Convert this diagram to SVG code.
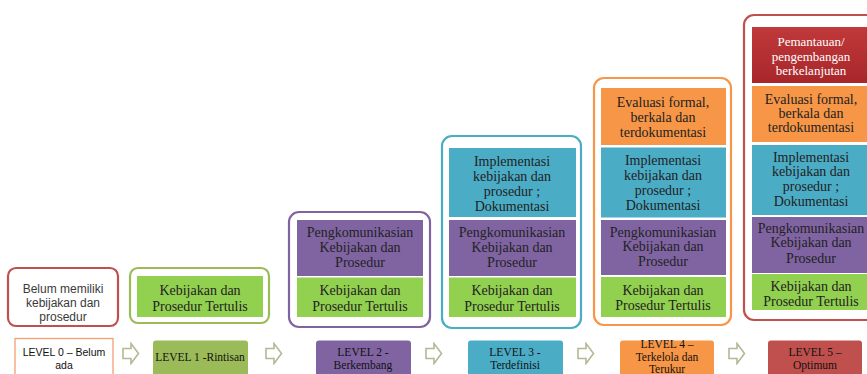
<svg xmlns="http://www.w3.org/2000/svg" width="867" height="374" viewBox="0 0 867 374">
<defs>
<linearGradient id="redg" x1="0" y1="0" x2="0" y2="1">
<stop offset="0" stop-color="#c0393b"/>
<stop offset="1" stop-color="#a8262a"/>
</linearGradient>
<symbol id="arr" viewBox="0 0 18 23">
<path d="M1 6.5 H9 V1.5 L16.5 11.5 L9 21.5 V16.5 H1 Z" fill="#ffffff" stroke="#b3b995" stroke-width="1.6" stroke-linejoin="miter"/>
</symbol>
</defs>
<style>
.t{font-family:"Liberation Serif","DejaVu Serif",serif;font-size:14px;fill:#222;text-anchor:middle}
.w{fill:#ffffff;font-size:13px}
.s{font-family:"Liberation Sans",Arial,sans-serif;font-size:12px;fill:#3a3a3a;text-anchor:middle}
.lb{font-family:"Liberation Serif","DejaVu Serif",serif;font-size:11.5px;fill:#111;text-anchor:middle}
.ls{font-family:"Liberation Sans",Arial,sans-serif;font-size:10.5px;fill:#111;text-anchor:middle}
.o{fill:#ffffff;stroke-width:2.2}
.g{fill:#92d050}
.p{fill:#8064a2}
.b{fill:#4bacc6}
.or{fill:#f79646}
</style>
<rect width="867" height="374" fill="#ffffff"/>

<g id="level0">
<rect class="o" x="8" y="268" width="110" height="58" rx="8" stroke="#c0504d"/>
<text class="s" x="63" y="293">Belum memiliki</text>
<text class="s" x="63" y="307">kebijakan dan</text>
<text class="s" x="63" y="321">prosedur</text>
<rect x="15" y="338.5" width="98" height="42" fill="#ffffff" stroke="#f0a070" stroke-width="1.3"/>
<text class="ls" x="64" y="356">LEVEL 0 – Belum</text>
<text class="ls" x="64" y="369">ada</text>
</g>

<g id="level1">
<rect class="o" x="130" y="268" width="139" height="55" rx="8" stroke="#9bbb59"/>
<rect class="g" x="137" y="276" width="126" height="41"/>
<text class="t" x="200" y="295">Kebijakan dan</text>
<text class="t" x="200" y="311">Prosedur Tertulis</text>
<rect x="153" y="340.5" width="95" height="40" rx="3" fill="#9bbb59"/>
<text class="lb" x="200" y="361">LEVEL 1 -Rintisan</text>
</g>

<g id="level2">
<rect class="o" x="289" y="212" width="141" height="115" rx="10" stroke="#8064a2"/>
<rect class="p" x="297" y="220" width="126" height="56"/>
<text class="t" x="360" y="237">Pengkomunikasian</text>
<text class="t" x="360" y="252">Kebijakan dan</text>
<text class="t" x="360" y="267">Prosedur</text>
<rect class="g" x="297" y="277.5" width="126" height="39.5"/>
<text class="t" x="360" y="295">Kebijakan dan</text>
<text class="t" x="360" y="311">Prosedur Tertulis</text>
<rect x="316" y="340.5" width="95" height="40" rx="3" fill="#8064a2"/>
<text class="lb" x="363" y="356">LEVEL 2 -</text>
<text class="lb" x="363" y="369">Berkembang</text>
</g>

<g id="level3">
<rect class="o" x="442" y="136" width="139" height="192" rx="10" stroke="#4bacc6"/>
<rect class="b" x="449" y="148" width="127" height="69"/>
<text class="t" x="512" y="166">Implementasi</text>
<text class="t" x="512" y="181">kebijakan dan</text>
<text class="t" x="512" y="196">prosedur ;</text>
<text class="t" x="512" y="211">Dokumentasi</text>
<rect class="p" x="449" y="220" width="127" height="56"/>
<text class="t" x="512" y="237">Pengkomunikasian</text>
<text class="t" x="512" y="252">Kebijakan dan</text>
<text class="t" x="512" y="267">Prosedur</text>
<rect class="g" x="449" y="277.5" width="127" height="39.5"/>
<text class="t" x="512" y="295">Kebijakan dan</text>
<text class="t" x="512" y="311">Prosedur Tertulis</text>
<rect x="468" y="340.5" width="95" height="40" rx="3" fill="#4bacc6"/>
<text class="lb" x="515" y="356">LEVEL 3 -</text>
<text class="lb" x="515" y="368.5">Terdefinisi</text>
</g>

<g id="level4">
<rect class="o" x="594" y="78" width="137" height="247" rx="10" stroke="#f79646"/>
<rect class="or" x="601" y="88" width="125" height="57"/>
<text class="t" x="663" y="107">Evaluasi formal,</text>
<text class="t" x="663" y="122">berkala dan</text>
<text class="t" x="663" y="137">terdokumentasi</text>
<rect class="b" x="601" y="147.5" width="125" height="70"/>
<text class="t" x="663" y="165">Implementasi</text>
<text class="t" x="663" y="180">kebijakan dan</text>
<text class="t" x="663" y="195">prosedur ;</text>
<text class="t" x="663" y="210">Dokumentasi</text>
<rect class="p" x="601" y="220" width="125" height="55"/>
<text class="t" x="663" y="237">Pengkomunikasian</text>
<text class="t" x="663" y="251">Kebijakan dan</text>
<text class="t" x="663" y="266">Prosedur</text>
<rect class="g" x="601" y="277" width="125" height="40"/>
<text class="t" x="663" y="295">Kebijakan dan</text>
<text class="t" x="663" y="310">Prosedur Tertulis</text>
<rect x="620" y="340.5" width="94" height="40" rx="3" fill="#f79646"/>
<text class="lb" x="667" y="348">LEVEL 4 –</text>
<text class="lb" x="667" y="360.5">Terkelola dan</text>
<text class="lb" x="667" y="373">Terukur</text>
</g>

<g id="level5">
<rect class="o" x="744" y="15" width="140" height="305" rx="10" stroke="#c0504d"/>
<rect x="752" y="27" width="115" height="56" fill="url(#redg)"/>
<text class="t w" x="811" y="46">Pemantauan/</text>
<text class="t w" x="811" y="61">pengembangan</text>
<text class="t w" x="811" y="75">berkelanjutan</text>
<rect class="or" x="752" y="86" width="115" height="56"/>
<text class="t" x="811" y="104">Evaluasi formal,</text>
<text class="t" x="811" y="118">berkala dan</text>
<text class="t" x="811" y="132">terdokumentasi</text>
<rect class="b" x="752" y="145" width="115" height="70"/>
<text class="t" x="811" y="162">Implementasi</text>
<text class="t" x="811" y="176">kebijakan dan</text>
<text class="t" x="811" y="191">prosedur ;</text>
<text class="t" x="811" y="206">Dokumentasi</text>
<rect class="p" x="752" y="217" width="115" height="56"/>
<text class="t" x="811" y="233">Pengkomunikasian</text>
<text class="t" x="811" y="247">Kebijakan dan</text>
<text class="t" x="811" y="263">Prosedur</text>
<rect class="g" x="752" y="274" width="115" height="36"/>
<text class="t" x="811" y="291">Kebijakan dan</text>
<text class="t" x="811" y="306">Prosedur Tertulis</text>
<rect x="768" y="340.5" width="94" height="40" rx="3" fill="#c0504d"/>
<text class="lb" x="815" y="356">LEVEL 5 –</text>
<text class="lb" x="815" y="368.5">Optimum</text>
</g>

<g id="connectors">
<use href="#arr" x="122" y="342" width="18" height="23"/>
<use href="#arr" x="265" y="342" width="18" height="23"/>
<use href="#arr" x="425" y="342" width="18" height="23"/>
<use href="#arr" x="577" y="342" width="18" height="23"/>
<use href="#arr" x="728" y="342" width="18" height="23"/>
</g>
</svg>
